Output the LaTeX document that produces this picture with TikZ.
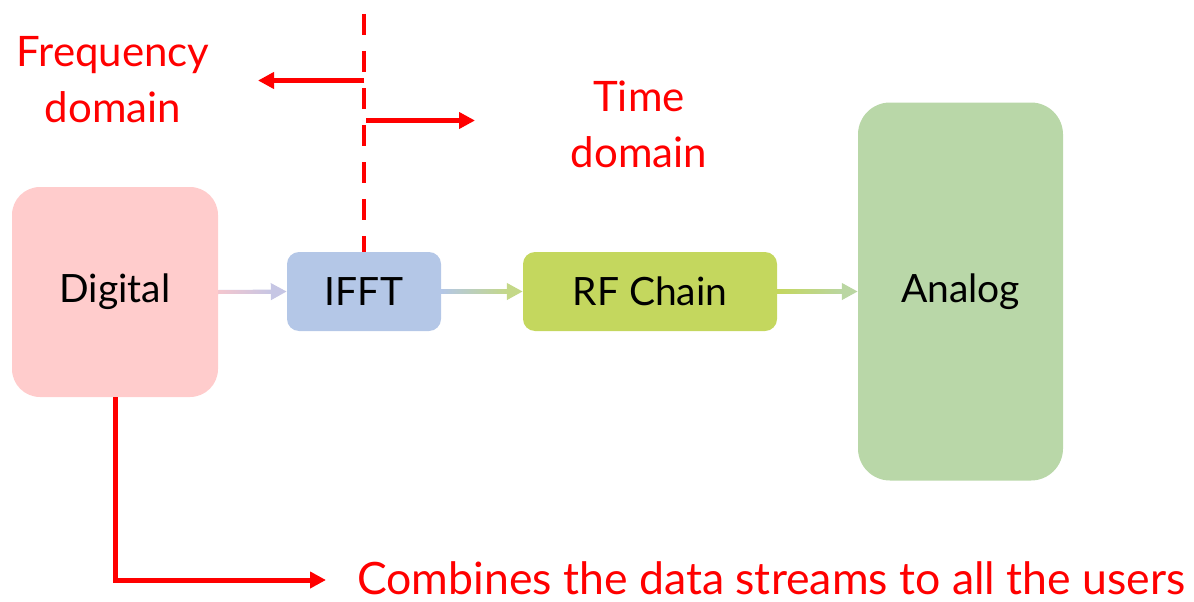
\documentclass[tikz,border=0pt]{standalone}
\usepackage{fontspec}
\setmainfont{Lato}
\usetikzlibrary{arrows.meta,calc}
\definecolor{myred}{HTML}{FF0000}
\definecolor{digfill}{HTML}{FFCCCC}
\definecolor{ifftfill}{HTML}{B4C7E7}
\definecolor{rffill}{HTML}{C4D75E}
\definecolor{anfill}{HTML}{B9D7A8}
\definecolor{pinkl}{HTML}{F4C6CE}
\definecolor{lav}{HTML}{C6C6E4}
\definecolor{gmid}{HTML}{C4D888}
\definecolor{gend}{HTML}{BAD6A2}
\tikzset{
  blk/.style={inner sep=0pt, text=black, font=\fontsize{39}{47}\selectfont},
  redtxt/.style={text=myred, inner sep=0pt, font=\fontsize{42}{56}\selectfont, align=center},
  redarrow/.style={draw=myred, line width=5pt, -{Triangle[length=16pt,width=16pt]}},
  garrow/.style={line width=4pt, -{Triangle[length=16pt,width=16pt]}},
}
\begin{document}
\begin{tikzpicture}[x=1pt,y=-1pt]
\useasboundingbox (0,0) rectangle (1194,602);
% blocks
\node[blk, fill=digfill, rounded corners=28pt, minimum width=206pt, minimum height=210pt] (dig) at (115,292) {Digital};
\node[blk, fill=ifftfill, rounded corners=12pt, minimum width=154pt, minimum height=79pt] (ifft) at (364,291.5) {IFFT};
\node[blk, fill=rffill, rounded corners=12pt, minimum width=254pt, minimum height=79pt] (rf) at (650,291.5) {RF Chain};
\node[blk, fill=anfill, rounded corners=32pt, minimum width=205pt, minimum height=378pt] (an) at (960.5,291.5) {Analog};
% gradient connectors
\draw[garrow, draw=lav, fill=lav] (dig.east) -- (ifft.west);
\shade[left color=pinkl, right color=lav] ($(dig.east)+(0,-2)$) rectangle ($(ifft.west)+(-15,2)$);
\draw[garrow, draw=gmid, fill=gmid] (ifft.east) -- (rf.west);
\shade[left color=ifftfill, right color=gmid] ($(ifft.east)+(0,-2)$) rectangle ($(rf.west)+(-15,2)$);
\draw[garrow, draw=gend, fill=gend] (rf.east) -- (an.west);
\shade[left color=rffill, right color=gend] ($(rf.east)+(0,-2)$) rectangle ($(an.west)+(-15,2)$);
% boundary
\coordinate (dtop) at (364,14);
\draw[myred, line width=4.5pt, dash pattern=on 21pt off 16pt] (dtop) -- (ifft.north);
\coordinate (la) at (364,80.5);
\coordinate (lb) at (258,80.5);
\coordinate (ra) at (366,120.5);
\coordinate (rb) at (475,120.5);
\draw[redarrow] (la) -- (lb);
\draw[redarrow] (ra) -- (rb);
\node[redtxt, anchor=base] (freq) at (113,122) {Frequency\\domain};
\node[redtxt, anchor=base] (time) at (639,167) {Time\\domain};
% combine
\coordinate (corner) at (115,580);
\node[text=myred, inner sep=0pt, anchor=base west, font=\fontsize{44.6}{53}\selectfont] (comb) at (357,594) {Combines the data streams to all the users};
\draw[redarrow, line width=5pt] (dig.south -| corner) -- (corner) -- ($(comb.west |- corner)+(-31,0)$);
\end{tikzpicture}
\end{document}
